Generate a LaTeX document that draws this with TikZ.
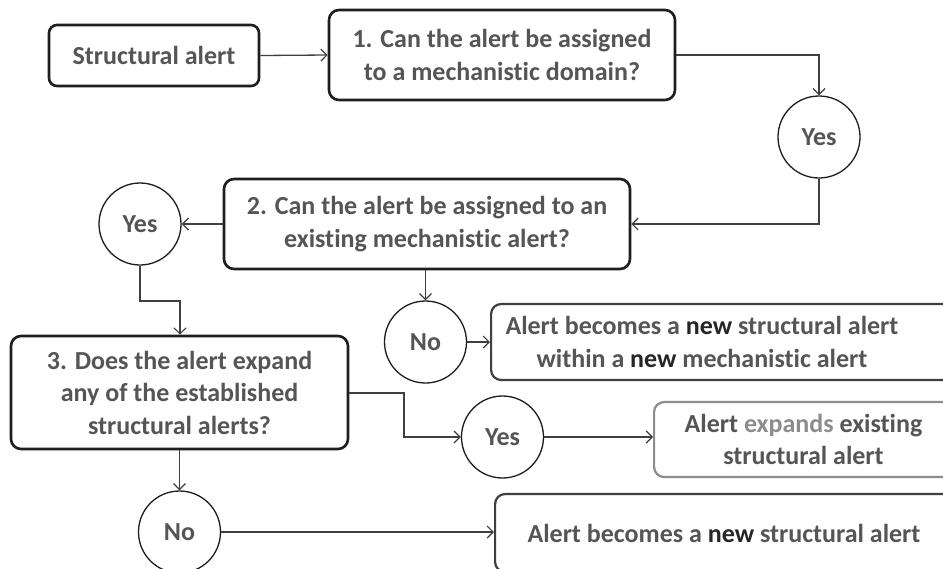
\documentclass[tikz,border=0pt]{standalone}
\usepackage{fontspec}
\setmainfont{Carlito}[Ligatures={NoCommon}]
\usetikzlibrary{arrows.meta}
\definecolor{txtgray}{HTML}{555555}
\definecolor{newdark}{HTML}{262626}
\definecolor{expgray}{HTML}{8C8C8C}
\definecolor{linegray}{HTML}{3F3F3F}
\definecolor{boxdark}{HTML}{1E1E1E}
\begin{document}
\begin{tikzpicture}[x=1pt,y=-1pt,
  every node/.style={font=\fontsize{26}{32.5}\selectfont\bfseries, text=txtgray, inner sep=0pt},
  qbox/.style={draw=boxdark, line width=2.6pt, rounded corners=10pt, align=center},
  rbox/.style={draw=linegray, line width=2.2pt, rounded corners=10pt},
  gbox/.style={draw=expgray, line width=2.2pt, rounded corners=10pt},
  circ/.style={draw=boxdark, circle, line width=1.3pt, minimum size=82pt},
  txt/.style={align=center},
  conn/.style={draw=linegray, line width=1.3pt, -{Straight Barb[length=6pt,width=12pt,line width=1.2pt]}}
]
\useasboundingbox (0,0) rectangle (943,568);
\clip (0,0) rectangle (943,568);
\fill[white] (0,0) rectangle (943,568);

% boxes
\node[qbox, minimum width=210pt, minimum height=61pt, rounded corners=8pt] (sa) at (154,55.5) {Structural alert};
\node[qbox, minimum width=346pt, minimum height=90pt] (q1) at (502,55) {1. Can the alert be assigned\\to a mechanistic domain?};
\node[circ] (y1) at (819,137) {Yes};
\node[qbox, minimum width=406pt, minimum height=90pt] (q2) at (427,224) {2. Can the alert be assigned to an\\existing mechanistic alert?};
\node[circ] (y2) at (140,224) {Yes};
\node[circ] (n1) at (425.5,342) {No};
\node[rbox, minimum width=520pt, minimum height=76pt, anchor=west] (r1) at (490,342) {};
\node[txt] (r1t) at (702,342) {Alert becomes a {\color{newdark}new} structural alert\\within a {\color{newdark}new} mechanistic alert};
\node[qbox, minimum width=337pt, minimum height=113pt] (q3) at (179.5,392.5) {3. Does the alert expand\\any of the established\\structural alerts?};
\node[circ] (y3) at (502.5,437) {Yes};
\node[gbox, minimum width=360pt, minimum height=75pt, anchor=west] (r2) at (653,439.5) {};
\node[txt] (r2t) at (803.5,439.5) {Alert {\color{expgray}expands} existing\\structural alert};
\node[circ] (n2) at (179.5,532) {No};
\node[rbox, minimum width=520pt, minimum height=78pt, anchor=west] (r3) at (494,533) {};
\node[txt] (r3t) at (724,533) {Alert becomes a {\color{newdark}new} structural alert};

% connectors
\coordinate (c1) at (819,55);
\coordinate (c2) at (819,224);
\coordinate (c3) at (140,301);
\coordinate (c4) at (180,301);
\coordinate (c5) at (404,393);
\coordinate (c6) at (404,437);

\draw[conn] (sa.east) -- (q1.west);
\draw[conn] (q1.east |- c1) -- (c1) -- (y1.north);
\draw[conn] (y1.south) -- (c2) -- (q2.east |- c2);
\draw[conn] (q2.west |- y2) -- (y2.east);
\draw[conn] (y2.south) -- (c3) -- (c4) -- (c4 |- q3.north);
\draw[conn] (n1.north |- q2.south) -- (n1.north);
\draw[conn] (n1.east) -- (r1.west);
\draw[conn] (q3.east |- c5) -- (c5) -- (c6) -- (y3.west);
\draw[conn] (y3.east) -- (r2.west |- y3);
\draw[conn] (q3.south -| n2.north) -- (n2.north);
\draw[conn] (n2.east) -- (r3.west |- n2);
\end{tikzpicture}
\end{document}
